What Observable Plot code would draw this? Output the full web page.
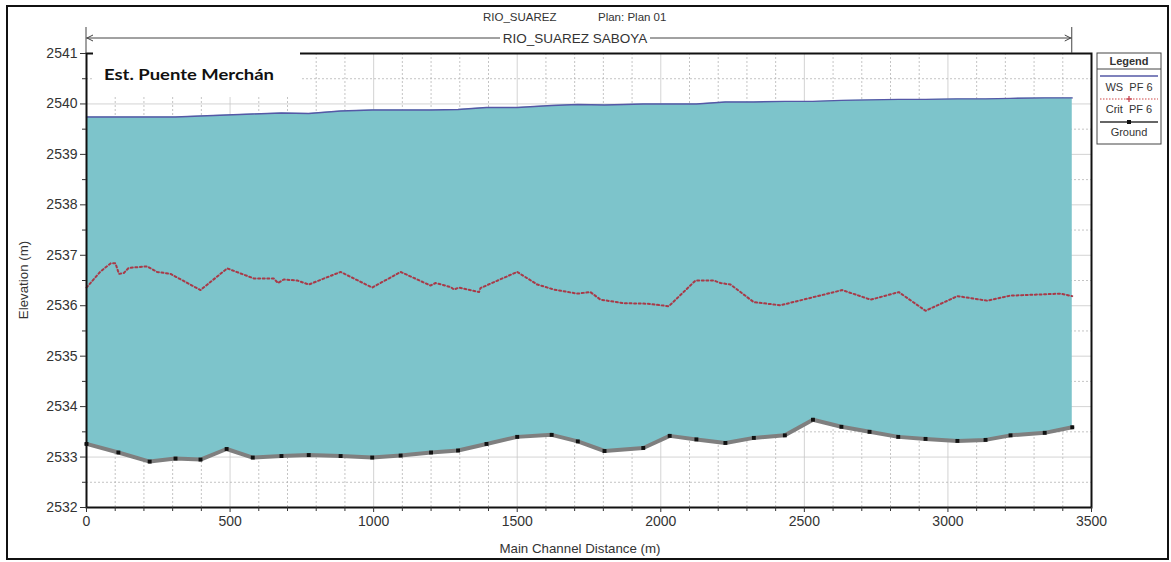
<!DOCTYPE html>
<html>
<head>
<meta charset="utf-8">
<script src="https://cdn.jsdelivr.net/npm/d3@7"></script>
<script src="https://cdn.jsdelivr.net/npm/@observablehq/plot@0.6"></script>
<style>
  html, body { margin: 0; padding: 0; background: #fff; }
  #chart svg { display: block; }
</style>
</head>
<body>
<div id="chart"></div>
<script>
// ---- data ----
const stations = [0,111,220,310,397,488,579,679,774,885,995,1094,1200,1294,1393,1500,1620,1711,1804,1939,2031,2124,2225,2324,2432,2530,2629,2727,2827,2922,3033,3131,3218,3337,3433];
const ground = [2533.26,2533.09,2532.91,2532.97,2532.95,2533.16,2532.99,2533.02,2533.04,2533.02,2532.99,2533.03,2533.09,2533.13,2533.26,2533.40,2533.44,2533.31,2533.12,2533.18,2533.42,2533.35,2533.28,2533.38,2533.43,2533.74,2533.60,2533.50,2533.40,2533.36,2533.32,2533.34,2533.43,2533.48,2533.59];
const wsPF6 = [2539.74,2539.74,2539.74,2539.74,2539.76,2539.78,2539.80,2539.82,2539.81,2539.86,2539.88,2539.88,2539.88,2539.89,2539.93,2539.93,2539.97,2539.99,2539.98,2540.00,2540.00,2540.00,2540.04,2540.04,2540.05,2540.05,2540.07,2540.08,2540.09,2540.09,2540.10,2540.10,2540.11,2540.12,2540.12];
const critDist = [0,49,84,101,113,130,147,211,246,293,397,490,583,652,667,687,734,774,885,995,1094,1198,1216,1268,1280,1297,1367,1372,1500,1570,1628,1709,1755,1790,1871,1953,2028,2121,2185,2208,2243,2324,2417,2632,2731,2829,2922,3033,3137,3218,3392,3433];
const critPF6 = [2536.36,2536.68,2536.84,2536.84,2536.63,2536.65,2536.75,2536.78,2536.67,2536.63,2536.31,2536.74,2536.54,2536.54,2536.45,2536.52,2536.50,2536.42,2536.67,2536.36,2536.67,2536.40,2536.45,2536.37,2536.32,2536.36,2536.27,2536.35,2536.67,2536.42,2536.32,2536.24,2536.27,2536.12,2536.05,2536.04,2535.99,2536.50,2536.50,2536.45,2536.42,2536.07,2536.01,2536.31,2536.12,2536.27,2535.90,2536.19,2536.10,2536.20,2536.24,2536.19];
const xTickLabels = [0,500,1000,1500,2000,2500,3000,3500];
const xMinorTicks = [100,200,300,400,600,700,800,900,1100,1200,1300,1400,1600,1700,1800,1900,2100,2200,2300,2400,2600,2700,2800,2900,3100,3200,3300,3400];
const yTickLabels = [2532,2533,2534,2535,2536,2537,2538,2539,2540,2541];
const yMinorTicks = [2532.5,2533.5,2534.5,2535.5,2536.5,2537.5,2538.5,2539.5,2540.5];
const titleText = ["RIO_SUAREZ", "Plan: Plan 01"];
const reachName = "RIO_SUAREZ SABOYA";
const stationLabel = "Est. Puente Merchán";
const legendItems = ["WS  PF 6", "Crit  PF 6", "Ground"];

const sections = stations.map((d, i) => ({dist: d, ground: ground[i], ws: wsPF6[i]}));
const crit = critDist.map((d, i) => ({dist: d, elev: critPF6[i]}));

const FONT = "'Liberation Sans', Arial, sans-serif";
const TEAL = "#7dc4cb";
const fmt = d => String(d);

const chart = Plot.plot({
  width: 1171,
  height: 562,
  marginLeft: 86,
  marginRight: 80,
  marginTop: 53,
  marginBottom: 55,
  style: {fontFamily: FONT, background: "#fff", color: "#333"},
  x: {domain: [0, 3500], axis: null},
  y: {domain: [2532, 2541], axis: null},
  marks: [
    Plot.ruleX(xMinorTicks, {stroke: "#b5b5b5", strokeWidth: 0.8, strokeDasharray: "2,2"}),
    Plot.ruleX(xTickLabels, {stroke: "#c8c8c8", strokeWidth: 0.8}),
    Plot.ruleY(yMinorTicks, {stroke: "#b5b5b5", strokeWidth: 0.8, strokeDasharray: "2,2"}),
    Plot.ruleY(yTickLabels, {stroke: "#c8c8c8", strokeWidth: 0.8}),
    Plot.areaY(sections, {x: "dist", y1: "ground", y2: "ws", fill: TEAL}),
    Plot.line(sections, {x: "dist", y: "ws", stroke: "#5558a6", strokeWidth: 1.4}),
    Plot.line(crit, {x: "dist", y: "elev", stroke: "#a83a48", strokeWidth: 2, strokeDasharray: "2,2.6"}),
    Plot.line(sections, {x: "dist", y: "ground", stroke: "#7f7f7f", strokeWidth: 4}),
    Plot.dot(sections, {x: "dist", y: "ground", symbol: "square", r: 2.2, fill: "#111"}),
    Plot.frame({stroke: "#111", strokeWidth: 2}),
    Plot.axisY(yTickLabels, {tickSize: 6, tickPadding: 3, fontSize: 14, stroke: "#333", fill: "#333", tickFormat: fmt, label: null}),
    Plot.axisY(yMinorTicks, {tickSize: 4, tickFormat: () => "", stroke: "#333", label: null}),
    Plot.axisX(xTickLabels, {tickSize: 5, tickPadding: 4, fontSize: 14, stroke: "#333", fill: "#333", tickFormat: fmt, label: null}),
    Plot.axisX(xMinorTicks, {tickSize: 4, tickFormat: () => "", stroke: "#333", label: null})
  ]
});

document.getElementById("chart").appendChild(chart);

const svg = d3.select(chart);
const xs = chart.scale("x");
const ys = chart.scale("y");
const xL = xs.apply(0), xR = xs.apply(stations[stations.length - 1]);
const yTop = ys.apply(2541);

// outer border
svg.append("rect").attr("x", 7).attr("y", 6).attr("width", 1161).attr("height", 553)
  .attr("fill", "none").attr("stroke", "#111").attr("stroke-width", 2);

// title
svg.append("text").attr("x", 483).attr("y", 21).attr("font-size", 11.5).attr("fill", "#333")
  .attr("text-anchor", "start").attr("font-family", FONT).text(titleText[0]);
svg.append("text").attr("x", 598).attr("y", 21).attr("font-size", 11.5).attr("fill", "#333")
  .attr("text-anchor", "start").attr("font-family", FONT).text(titleText[1]);

// reach arrow
const ay = 38;
const tx0 = 500, tx1 = 650;
const g = svg.append("g").attr("stroke", "#444").attr("stroke-width", 1).attr("fill", "none");
g.append("line").attr("x1", xL).attr("x2", xL).attr("y1", 27).attr("y2", yTop);
g.append("line").attr("x1", xR).attr("x2", xR).attr("y1", 27).attr("y2", yTop);
g.append("line").attr("x1", xL).attr("x2", tx0).attr("y1", ay).attr("y2", ay);
g.append("line").attr("x1", tx1).attr("x2", xR).attr("y1", ay).attr("y2", ay);
g.append("path").attr("d", `M${xL+7},${ay-3} L${xL+1},${ay} L${xL+7},${ay+3}`);
g.append("path").attr("d", `M${xR-7},${ay-3} L${xR-1},${ay} L${xR-7},${ay+3}`);
svg.append("text").attr("x", (tx0 + tx1) / 2).attr("y", ay + 5).attr("text-anchor", "middle")
  .attr("font-size", 13.5).attr("fill", "#333").attr("font-family", FONT).text(reachName);

// station label box
svg.append("rect").attr("x", 93).attr("y", 44).attr("width", 207).attr("height", 53).attr("fill", "#fff");
svg.append("text").attr("x", 104).attr("y", 80).attr("font-size", 16).attr("font-weight", "bold")
  .attr("text-anchor", "start").attr("fill", "#111").attr("font-family", "Lato, 'Open Sans', sans-serif")
  .attr("textLength", 170).attr("lengthAdjust", "spacingAndGlyphs").text(stationLabel);

// axis titles
svg.append("text").attr("x", 580).attr("y", 553).attr("text-anchor", "middle").attr("font-size", 13.3)
  .attr("fill", "#333").attr("font-family", FONT).text("Main Channel Distance (m)");
svg.append("text").attr("transform", "translate(28,280) rotate(-90)").attr("text-anchor", "middle")
  .attr("font-size", 13.3).attr("fill", "#333").attr("font-family", FONT).text("Elevation (m)");

// legend
const lg = svg.append("g").attr("font-family", FONT).attr("font-size", 11).attr("fill", "#333");
lg.append("rect").attr("x", 1097).attr("y", 53).attr("width", 64).attr("height", 91)
  .attr("fill", "#fff").attr("stroke", "#444").attr("stroke-width", 1);
lg.append("text").attr("x", 1129).attr("y", 65).attr("text-anchor", "middle").attr("font-weight", "bold").text("Legend");
lg.append("line").attr("x1", 1097).attr("x2", 1161).attr("y1", 69).attr("y2", 69).attr("stroke", "#444");
lg.append("line").attr("x1", 1100).attr("x2", 1158).attr("y1", 76).attr("y2", 76).attr("stroke", "#5558a6").attr("stroke-width", 1.4);
lg.append("text").attr("x", 1129).attr("y", 91).attr("text-anchor", "middle").attr("xml:space", "preserve").text(legendItems[0]);
lg.append("line").attr("x1", 1100).attr("x2", 1158).attr("y1", 99).attr("y2", 99).attr("stroke", "#d04848").attr("stroke-width", 1.2).attr("stroke-dasharray", "1.5,1.5");
lg.append("path").attr("d", "M1126,99 H1132 M1129,96 V102").attr("stroke", "#c03040").attr("stroke-width", 1.2);
lg.append("text").attr("x", 1129).attr("y", 113).attr("text-anchor", "middle").attr("xml:space", "preserve").text(legendItems[1]);
lg.append("line").attr("x1", 1100).attr("x2", 1158).attr("y1", 122).attr("y2", 122).attr("stroke", "#333").attr("stroke-width", 1.4);
lg.append("rect").attr("x", 1127).attr("y", 120).attr("width", 4).attr("height", 4).attr("fill", "#111");
lg.append("text").attr("x", 1129).attr("y", 136).attr("text-anchor", "middle").text(legendItems[2]);
</script>
</body>
</html>
